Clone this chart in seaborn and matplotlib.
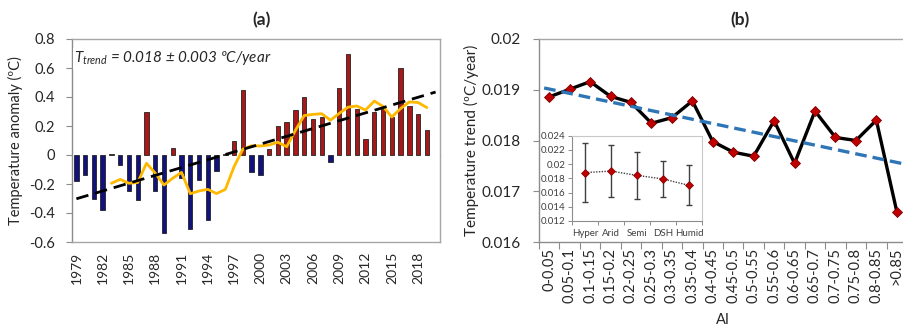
import numpy as np
import pandas as pd
import matplotlib
matplotlib.use("Agg")
import matplotlib.pyplot as plt
import seaborn as sns

# ---------------- data ----------------
# (a) annual temperature anomaly
years = list(range(1979, 2020))
anomaly = [-0.18, -0.14, -0.30, -0.38, 0.01, -0.07, -0.25, -0.31, 0.30, -0.25,
           -0.54, 0.05, -0.16, -0.51, -0.17, -0.45, -0.11, 0.01, 0.10, 0.45,
           -0.12, -0.14, 0.04, 0.20, 0.23, 0.31, 0.40, 0.25, 0.26, -0.05,
           0.46, 0.70, 0.32, 0.11, 0.30, 0.32, 0.26, 0.60, 0.34, 0.28, 0.17]

# running mean curve
smooth_years = list(range(1983, 2020))
smooth_vals = [-0.195, -0.168, -0.195, -0.19, -0.057, -0.125, -0.207, -0.16,
               -0.12, -0.267, -0.248, -0.237, -0.266, -0.237, -0.08, 0.04,
               0.064, 0.062, 0.069, 0.088, 0.057, 0.17, 0.272, 0.28, 0.285,
               0.24, 0.287, 0.33, 0.338, 0.31, 0.372, 0.335, 0.262, 0.32,
               0.366, 0.362, 0.327]

year_ticks = list(range(1979, 2020, 3))

# (b) temperature trend by aridity index class
ai_classes = ["0-0.05", "0.05-0.1", "0.1-0.15", "0.15-0.2", "0.2-0.25",
              "0.25-0.3", "0.3-0.35", "0.35-0.4", "0.4-0.45", "0.45-0.5",
              "0.5-0.55", "0.55-0.6", "0.6-0.65", "0.65-0.7", "0.7-0.75",
              "0.75-0.8", "0.8-0.85", ">0.85"]
ai_trend = [0.01886, 0.01901, 0.01916, 0.01887, 0.01875, 0.01834, 0.01845,
            0.01878, 0.01798, 0.01777, 0.01769, 0.01839, 0.01755, 0.01858,
            0.01806, 0.01800, 0.01840, 0.01660]

# inset: climate zones
zones = ["Hyper", "Arid", "Semi", "DSH", "Humid"]
zone_trend = [0.0188, 0.0190, 0.0184, 0.0179, 0.0170]
zone_err = [0.0041, 0.0036, 0.0033, 0.0025, 0.0028]

# ---------------- style ----------------
sns.set_theme(style="white")
plt.rcParams["font.family"] = ["Lato", "DejaVu Sans"]
plt.rcParams["mathtext.fontset"] = "custom"
plt.rcParams["mathtext.it"] = "Lato:italic"
plt.rcParams["mathtext.rm"] = "Lato:italic"

TXT = "#262626"
FRAME = "#A6A6A6"
AXLINE = "#8C8C8C"
RED = "#C00000"
NAVY = "#000090"
GOLD = "#FFB800"
BLUE = "#2E75B6"

fig = plt.figure(figsize=(9.04, 3.31), dpi=100)
W, H = 904, 331


def px_axes(x0, y0, x1, y1):
    return fig.add_axes([x0 / W, 1 - y1 / H, (x1 - x0) / W, (y1 - y0) / H])


# ================= panel (a) =================
ax = px_axes(72, 39, 440, 242)
df_a = pd.DataFrame({"year": years, "anom": anomaly})
df_a["sign"] = np.where(df_a["anom"] >= 0, "pos", "neg")
sns.barplot(data=df_a, x="year", y="anom", hue="sign",
            palette={"pos": RED, "neg": NAVY}, native_scale=True, dodge=False,
            width=0.5, edgecolor="#222222", linewidth=0.6, legend=False, ax=ax)

sns.lineplot(x=smooth_years, y=smooth_vals, color=GOLD, lw=2.0, ax=ax)

# linear trend of the anomaly series
coef = np.polyfit(years, anomaly, 1)
trend_x = np.array([years[0], years[-1] + 1.0])
sns.lineplot(x=trend_x, y=np.polyval(coef, trend_x), color="black", lw=2.0,
             ax=ax).lines[-1].set_dashes([4.5, 2.5])

ax.set_xlim(years[0] - 0.5, years[-1] + 1.5)
ax.set_ylim(-0.6, 0.8)
yt = [-0.6, -0.4, -0.2, 0, 0.2, 0.4, 0.6, 0.8]
ax.set_yticks(yt)
ax.set_yticklabels(["-0.6", "-0.4", "-0.2", "0", "0.2", "0.4", "0.6", "0.8"])
ax.set_xticks(year_ticks)
ax.set_xticklabels([str(y) for y in year_ticks], rotation=90)
ax.tick_params(axis="x", length=0, pad=7, labelsize=10, colors=TXT)
ax.tick_params(axis="y", left=True, length=4, width=0.8, color=AXLINE,
               direction="out", pad=8, labelsize=10.5, labelcolor=TXT)
ax.set_xlabel("")
ax.set_ylabel("Temperature anomaly (ºC)", fontsize=10.5, color=TXT)
ax.yaxis.set_label_coords(-0.134, 0.5)
for s in ax.spines.values():
    s.set_color(FRAME)
    s.set_linewidth(1.0)
ax.spines["left"].set_color(AXLINE)

# category axis drawn along zero with ticks every five years
ax0 = ax.twiny()
ax0.set_xlim(ax.get_xlim())
for s in ax0.spines.values():
    s.set_visible(False)
ax0.spines["bottom"].set_visible(True)
ax0.spines["bottom"].set_position(("data", 0))
ax0.spines["bottom"].set_color(AXLINE)
ax0.spines["bottom"].set_linewidth(1.0)
ax0.xaxis.set_ticks_position("bottom")
ax0.set_xticks([y - 0.5 for y in years[5::5]])
ax0.tick_params(axis="x", length=4, width=0.8, color=AXLINE, direction="out",
                labelbottom=False, labeltop=False, top=False)
ax0.set_zorder(ax.get_zorder() - 1)

ax.text(0.006, 0.905, r"$T_{trend}$ = 0.018 ± 0.003 ºC/year",
        transform=ax.transAxes, fontsize=11, style="italic", color=TXT,
        va="center", ha="left",
        bbox=dict(facecolor="white", edgecolor="none", pad=1.0))

fig.text(262 / W, 1 - 20 / H, "(a)", fontsize=12.5, fontweight="bold",
         ha="center", va="center", color=TXT)

# ================= panel (b) =================
bx = px_axes(539, 39, 907, 242)
pos = np.arange(len(ai_classes))
sns.lineplot(x=pos, y=ai_trend, color="black", lw=2.4, marker="D",
             markersize=5.5, markerfacecolor=RED, markeredgecolor="#7a0000",
             markeredgewidth=0.6, ax=bx, zorder=3)

cb = np.polyfit(pos, ai_trend, 1)
tx = np.array([pos[0] - 0.25, pos[-1] + 0.5])
sns.lineplot(x=tx, y=np.polyval(cb, tx), color=BLUE, lw=2.4, ax=bx,
             zorder=4).lines[-1].set_dashes([3.5, 1.8])

bx.set_xlim(-0.5, len(ai_classes) - 0.5)
bx.set_ylim(0.016, 0.02)
bx.set_yticks([0.016, 0.017, 0.018, 0.019, 0.02])
bx.set_yticklabels(["0.016", "0.017", "0.018", "0.019", "0.02"])
bx.set_xticks(pos)
bx.set_xticklabels(ai_classes, rotation=90)
bx.set_xticks(np.arange(len(ai_classes) + 1) - 0.5, minor=True)
bx.tick_params(axis="x", which="major", length=0, pad=4, labelsize=10.5,
               colors=TXT)
bx.tick_params(axis="x", which="minor", bottom=True, length=5, width=0.8,
               color=AXLINE, direction="out")
bx.tick_params(axis="y", left=True, length=4, width=0.8, color=AXLINE,
               direction="out", pad=9, labelsize=11, labelcolor=TXT)
bx.set_ylabel("Temperature trend (ºC/year)", fontsize=11, color=TXT)
bx.yaxis.set_label_coords(-0.162, 0.5)
bx.set_xlabel("")
for s in bx.spines.values():
    s.set_color(FRAME)
    s.set_linewidth(1.0)
bx.spines["left"].set_color(AXLINE)
bx.spines["bottom"].set_color(AXLINE)

fig.text(723 / W, 1 - 320 / H, "AI", fontsize=10.5, ha="center",
         va="center", color=TXT)
fig.text(740 / W, 1 - 20 / H, "(b)", fontsize=12.5, fontweight="bold",
         ha="center", va="center", color=TXT)

# ---------------- inset ----------------
ix = px_axes(572, 135.5, 702, 221)
ix.set_facecolor("white")
zpos = np.arange(len(zones))
ix.errorbar(zpos, zone_trend, yerr=zone_err, fmt="none", ecolor="#404040",
            elinewidth=1.0, capsize=2.5, capthick=1.0)
sns.lineplot(x=zpos, y=zone_trend, color="#404040", lw=1.0, marker="D",
             markersize=4.5, markerfacecolor=RED, markeredgecolor="#7a0000",
             markeredgewidth=0.5, ax=ix, zorder=3).lines[-1].set_linestyle(
                 (0, (1, 1)))
ix.set_xlim(-0.5, len(zones) - 0.5)
ix.set_ylim(0.012, 0.024)
iy = [0.012, 0.014, 0.016, 0.018, 0.02, 0.022, 0.024]
ix.set_yticks(iy)
ix.set_yticklabels(["0.012", "0.014", "0.016", "0.018", "0.02", "0.022",
                    "0.024"])
ix.set_xticks(zpos)
ix.set_xticklabels(zones)
ix.set_xticks(np.arange(len(zones) + 1) - 0.5, minor=True)
ix.tick_params(axis="x", which="major", length=0, pad=6, labelsize=7,
               colors="#404040")
ix.tick_params(axis="x", which="minor", bottom=True, length=3, width=0.7,
               color=AXLINE, direction="out")
ix.tick_params(axis="y", left=True, length=3, width=0.7, color=AXLINE,
               direction="out", pad=1.5, labelsize=7, labelcolor="#404040")
ix.set_xlabel("")
ix.set_ylabel("")
for s in ix.spines.values():
    s.set_color("#C8C8C8")
    s.set_linewidth(0.8)
ix.spines["left"].set_color(AXLINE)
ix.spines["bottom"].set_color(AXLINE)

fig.savefig("out.png", dpi=100)
